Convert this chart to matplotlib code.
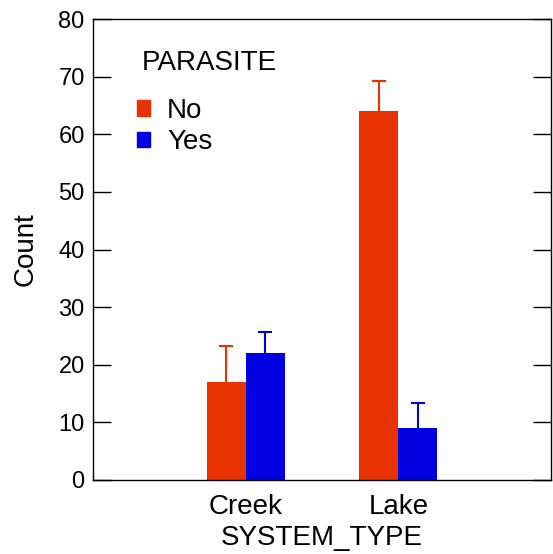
import matplotlib
matplotlib.use("Agg")
import matplotlib.pyplot as plt
from matplotlib.patches import Patch
import numpy as np

categories = ["Creek", "Lake"]
groups = ["No", "Yes"]
counts_no = [17, 64]
counts_yes = [22, 9]
err_no = [6.2, 5.2]
err_yes = [3.6, 4.4]
yticks = [0, 10, 20, 30, 40, 50, 60, 70, 80]

red = "#E83200"
blue = "#0000E0"

plt.rcParams['font.family'] = ['Liberation Sans', 'DejaVu Sans']

fig = plt.figure(figsize=(5.53, 5.54), dpi=100)
ax = fig.add_axes([93/553, 1-480/554, (551-93)/553, (480-19)/554])

x = np.arange(len(categories))
w = 0.255
for offs, vals, errs, col in [(-w/2, counts_no, err_no, red),
                              (w/2, counts_yes, err_yes, blue)]:
    cont = ax.bar(x + offs, vals, width=w, color=col,
                  yerr=[np.zeros(len(vals)), errs],
                  error_kw=dict(ecolor=col, elinewidth=1.5, capsize=5, capthick=1.5))
    caps = cont.errorbar.lines[1]
    if len(caps) > 1:
        caps[0].set_visible(False)

ax.set_xlim(-1, 2)
ax.set_ylim(0, 80)
ax.set_yticks(yticks)
ax.set_xticks(x)
ax.set_xticklabels(categories)
ax.tick_params(axis='y', direction='in', length=13, width=1, labelsize=17,
               right=True, pad=6)
ax.tick_params(axis='x', length=0, labelsize=20, pad=10)
ax.set_ylabel("Count", fontsize=20, labelpad=14)
ax.set_xlabel("SYSTEM_TYPE", fontsize=20, labelpad=4)
for s in ax.spines.values():
    s.set_linewidth(1)

handles = [Patch(color=red, label="No"), Patch(color=blue, label="Yes")]
leg = ax.legend(handles=handles, title="PARASITE", loc="upper left",
                bbox_to_anchor=(0.042, 0.988), frameon=False, fontsize=20,
                title_fontsize=20, handlelength=0.47, handleheight=0.47,
                handletextpad=0.6, labelspacing=0.2, alignment='left')
leg._legend_box.sep = 16
leg.get_title().set_x(5)

fig.savefig("out.png", dpi=100)
